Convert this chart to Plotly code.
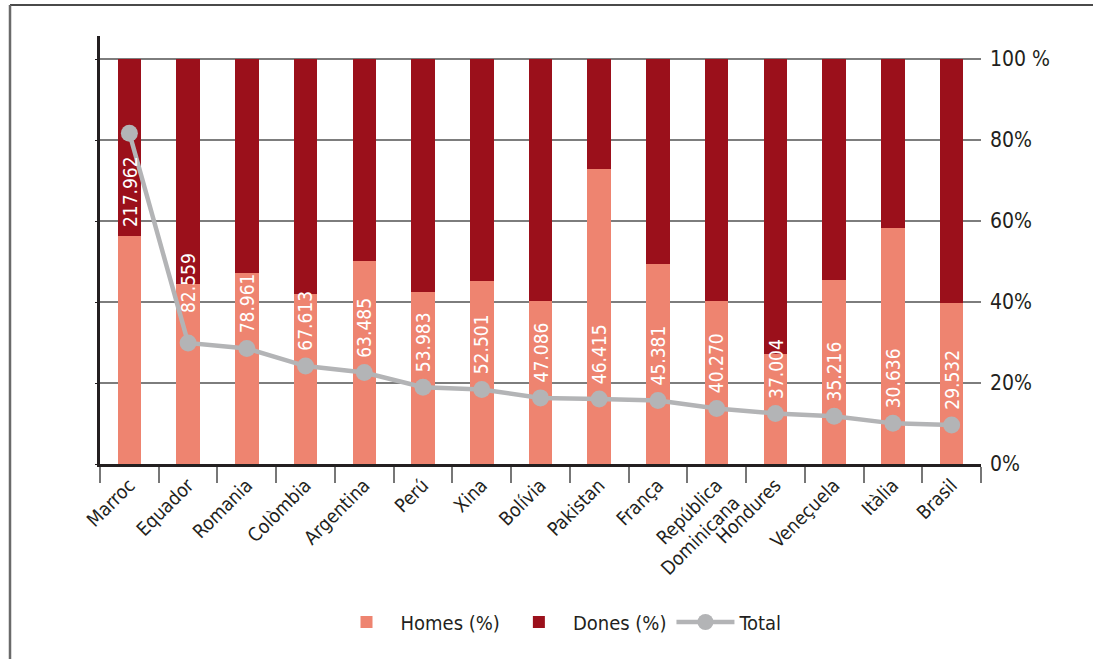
import plotly.graph_objects as go

countries = ["Marroc", "Equador", "Romania", "Colòmbia", "Argentina", "Perú", "Xina",
             "Bolívia", "Pakistan", "França", "República<br>Dominicana", "Hondures",
             "Veneçuela", "Itàlia", "Brasil"]
homes_pct = [56.3, 44.4, 47.2, 42.0, 50.2, 42.5, 45.3, 40.2, 72.8, 49.4, 40.3, 27.2, 45.4, 58.3, 39.8]
dones_pct = [round(100 - h, 1) for h in homes_pct]
totals = [217.962, 82.559, 78.961, 67.613, 63.485, 53.983, 52.501, 47.086, 46.415,
          45.381, 40.270, 37.004, 35.216, 30.636, 29.532]
total_labels = ["217.962", "82.559", "78.961", "67.613", "63.485", "53.983", "52.501", "47.086",
                "46.415", "45.381", "40.270", "37.004", "35.216", "30.636", "29.532"]
pct_ticks = [0, 20, 40, 60, 80, 100]
pct_ticktext = ["0%", "20%", "40%", "60%", "80%", "100 %"]

LIGHT = "#EE8470"
DARK = "#9B101B"
GREY = "#B3B4B6"
TXT = "#231F20"
COND = "DejaVu Sans Condensed, Liberation Sans Narrow, Roboto, sans-serif"

fig = go.Figure()
fig.add_trace(go.Bar(x=countries, y=homes_pct, name="Homes (%)", marker_color=LIGHT,
                     marker_line_width=0))
fig.add_trace(go.Bar(x=countries, y=dones_pct, name="Dones (%)", marker_color=DARK,
                     marker_line_width=0))
fig.add_trace(go.Scatter(x=countries, y=totals, name="Total", yaxis="y2", mode="lines+markers",
                         line=dict(color=GREY, width=4.5), marker=dict(color=GREY, size=17)))

for i, (c, t, lab) in enumerate(zip(countries, totals, total_labels)):
    below = i == 0
    shift = 13
    if i == 1:
        shift = 28
    fig.add_annotation(x=c, y=t, xref="x", yref="y2", text=lab, textangle=-90,
                       showarrow=False, font=dict(color="white", size=19, family=COND),
                       yanchor="top" if below else "bottom",
                       yshift=-21 if below else shift)

# plot area in pixels: x 100..981, y 36..464
L, R, T, B = 100, 981, 36, 464
W, H = R - L, B - T
def px(xp):
    return (xp - L) / W
def py(yp):
    return (B - yp) / H

fig.add_shape(type="line", xref="paper", yref="paper", x0=px(10), x1=px(1093),
              y0=py(5), y1=py(5), line=dict(color="#4a4a4a", width=2))
fig.add_shape(type="line", xref="paper", yref="paper", x0=px(10), x1=px(10),
              y0=py(5), y1=py(659), line=dict(color="#6a6a6a", width=2.5))

fig.update_layout(
    width=1093, height=659,
    margin=dict(l=L, r=1093 - R, t=T, b=659 - B, autoexpand=False),
    paper_bgcolor="white", plot_bgcolor="white",
    barmode="stack", bargap=0.6,
    font=dict(family=COND, color=TXT, size=17),
    showlegend=True,
    legend=dict(orientation="h", x=px(560), xanchor="center", y=py(622), yanchor="middle",
                font=dict(size=20, family=COND, color=TXT), itemwidth=58,
                traceorder="normal"),
    xaxis=dict(range=[-0.5, len(countries) - 0.5], showline=True, linecolor=TXT, linewidth=2.5,
               ticks="outside", tickson="boundaries", ticklen=16, tickcolor="#777",
               tickwidth=1.5, tickangle=-45, tickfont=dict(size=19, family=COND, color=TXT),
               showgrid=False, zeroline=False, automargin=False),
    yaxis=dict(range=[0, 105.7], side="right", tickvals=pct_ticks, ticktext=pct_ticktext,
               showgrid=True, gridcolor="#7d7d7d", gridwidth=1.5, zeroline=False,
               ticks="", ticklabelstandoff=8, showline=False, automargin=False,
               tickfont=dict(size=21, family=COND, color=TXT)),
    yaxis2=dict(range=[4.4, 280.7], overlaying="y", side="left", showline=True,
                linecolor=TXT, linewidth=2.5, showticklabels=False, showgrid=False,
                zeroline=False, ticks="", automargin=False),
    yaxis3=dict(range=[0, 105.7], overlaying="y", side="left", showline=False,
                tickvals=pct_ticks, ticks="outside", ticklen=4, tickcolor=TXT,
                showticklabels=False, showgrid=False, zeroline=False, automargin=False),
)
fig.add_trace(go.Scatter(x=[countries[0]], y=[0], yaxis="y3", mode="markers",
                         marker=dict(opacity=0), showlegend=False, hoverinfo="skip"))

fig.write_html("out.html", config={"displayModeBar": False},
               post_script="document.body.style.margin='0';"
                           "document.body.style.overflow='hidden';"
                           "document.documentElement.style.overflow='hidden';")
